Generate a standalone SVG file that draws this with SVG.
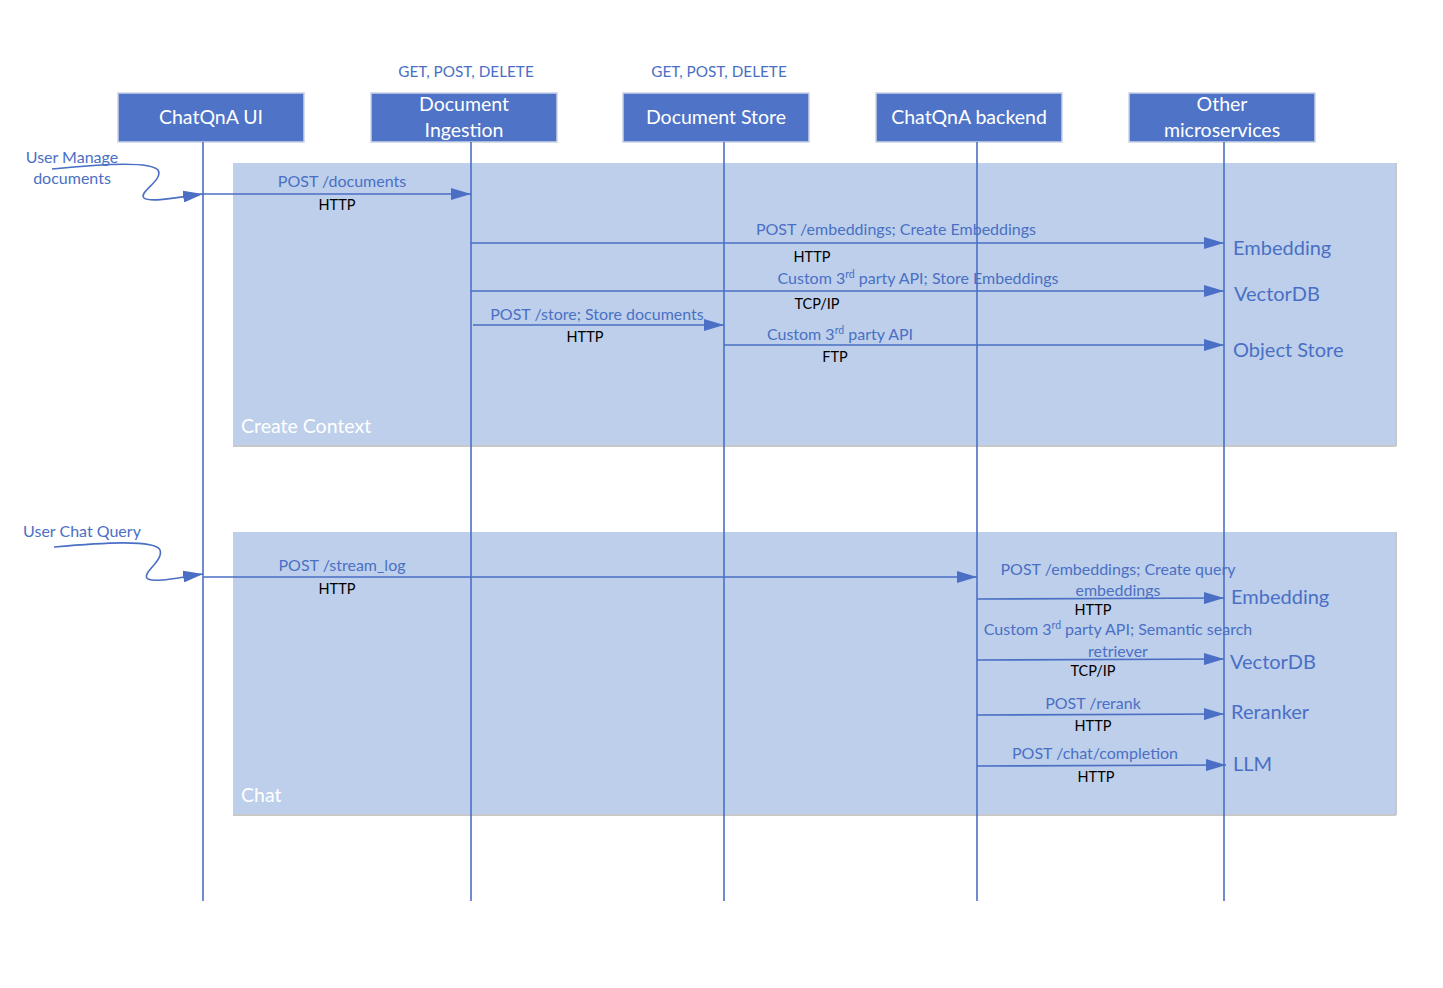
<svg xmlns="http://www.w3.org/2000/svg" width="1443" height="988" viewBox="0 0 1443 988">
<style>
  .box{fill:#4e73c7;stroke:#c9d3e6;stroke-width:1.5}
  .nt{font-family:Lato,"Noto Sans",sans-serif;font-size:19.5px;fill:#ffffff;text-anchor:middle}
  .panel{fill:#bdcfea}
  .pedge{stroke:#c8c8c8;stroke-width:2}
  .ptitle{font-family:Lato,"Noto Sans",sans-serif;font-size:19.5px;fill:#ffffff}
  .life{stroke:#4a6fc5;stroke-width:1.6;fill:none}
  .msg{stroke:#4a6fc5;stroke-width:1.6;fill:none;marker-end:url(#ah)}
  .lb{font-family:Lato,"Noto Sans",sans-serif;font-size:16px;fill:#4a6fc5;text-anchor:middle}
  .pr{font-family:Lato,"Noto Sans",sans-serif;font-size:14.5px;fill:#000000;text-anchor:middle}
  .tg{font-family:Lato,"Noto Sans",sans-serif;font-size:20px;fill:#4a6fc5}
  .meth{font-family:Lato,"Noto Sans",sans-serif;font-size:15.3px;fill:#4a6fc5;text-anchor:middle}
  .sup{font-size:10.5px}
</style>
<defs>
  <marker id="ah" markerWidth="20" markerHeight="12" refX="20" refY="6" orient="auto" markerUnits="userSpaceOnUse">
    <path d="M0,0 L20,6 L0,12 Z" fill="#4a6fc5"/>
  </marker>
</defs>
<rect width="1443" height="988" fill="#ffffff"/>

<g id="panel-create-context">
  <rect class="panel" x="233" y="163" width="1163" height="283"/>
  <line class="pedge" x1="233" y1="446" x2="1396" y2="446"/>
  <line class="pedge" x1="1396" y1="163" x2="1396" y2="446"/>
  <text class="ptitle" x="241" y="433">Create Context</text>
</g>
<g id="panel-chat">
  <rect class="panel" x="233" y="532" width="1163" height="283"/>
  <line class="pedge" x1="233" y1="815" x2="1396" y2="815"/>
  <line class="pedge" x1="1396" y1="532" x2="1396" y2="815"/>
  <text class="ptitle" x="241" y="802">Chat</text>
</g>

<g id="node-ui">
  <rect class="box" x="118" y="93" width="186" height="49"/>
  <text class="nt" x="211" y="124">ChatQnA UI</text>
</g>
<g id="node-ingestion">
  <text class="meth" x="466" y="77">GET, POST, DELETE</text>
  <rect class="box" x="371" y="93" width="186" height="49"/>
  <text class="nt" x="464" y="111">Document</text>
  <text class="nt" x="464" y="137">Ingestion</text>
</g>
<g id="node-store">
  <text class="meth" x="719" y="77">GET, POST, DELETE</text>
  <rect class="box" x="623" y="93" width="186" height="49"/>
  <text class="nt" x="716" y="124">Document Store</text>
</g>
<g id="node-backend">
  <rect class="box" x="876" y="93" width="186" height="49"/>
  <text class="nt" x="969" y="124">ChatQnA backend</text>
</g>
<g id="node-other">
  <rect class="box" x="1129" y="93" width="186" height="49"/>
  <text class="nt" x="1222" y="111">Other</text>
  <text class="nt" x="1222" y="137">microservices</text>
</g>

<g id="lifelines">
  <line class="life" x1="203" y1="142" x2="203" y2="901"/>
  <line class="life" x1="471" y1="142" x2="471" y2="901"/>
  <line class="life" x1="724" y1="142" x2="724" y2="901"/>
  <line class="life" x1="977" y1="142" x2="977" y2="901"/>
  <line class="life" x1="1224" y1="142" x2="1224" y2="901"/>
</g>

<g id="connectors">
  <!-- user manage documents -->
  <text class="lb" x="72" y="163">User Manage</text>
  <text class="lb" x="72" y="184">documents</text>
  <path class="msg" d="M52,169 C90,165 150,160 158,170 C164,180 138,192 144,198 C150,203 180,197 203,194"/>

  <path class="msg" d="M203,194 L471,194"/>
  <text class="lb" x="342" y="187">POST /documents</text>
  <text class="pr" x="337" y="210">HTTP</text>

  <path class="msg" d="M471,243 L1224,243"/>
  <text class="lb" x="896" y="235">POST /embeddings; Create Embeddings</text>
  <text class="pr" x="812" y="262">HTTP</text>
  <text class="tg" x="1233" y="255">Embedding</text>

  <path class="msg" d="M471,291 L1224,291"/>
  <text class="lb" x="918" y="284">Custom 3<tspan class="sup" dy="-6">rd</tspan><tspan dy="6"> party API; Store Embeddings</tspan></text>
  <text class="pr" x="817" y="309">TCP/IP</text>
  <text class="tg" x="1234" y="301">VectorDB</text>

  <path class="msg" d="M473,325 L724,325"/>
  <text class="lb" x="597" y="320">POST /store; Store documents</text>
  <text class="pr" x="585" y="342">HTTP</text>

  <path class="msg" d="M724,345 L1224,345"/>
  <text class="lb" x="840" y="340">Custom 3<tspan class="sup" dy="-6">rd</tspan><tspan dy="6"> party API</tspan></text>
  <text class="pr" x="835" y="362">FTP</text>
  <text class="tg" x="1233" y="357">Object Store</text>

  <!-- user chat query -->
  <text class="lb" x="82" y="537">User Chat Query</text>
  <path class="msg" d="M54,547 C100,543 155,539 160,550 C164,561 140,574 148,579 C156,583 180,577 203,574"/>

  <path class="msg" d="M203,577 L977,577"/>
  <text class="lb" x="342" y="571">POST /stream_log</text>
  <text class="pr" x="337" y="594">HTTP</text>

  <path class="msg" d="M977,599 L1224,598"/>
  <text class="lb" x="1118" y="575">POST /embeddings; Create query</text>
  <text class="lb" x="1118" y="596">embeddings</text>
  <text class="pr" x="1093" y="615">HTTP</text>
  <text class="tg" x="1231" y="604">Embedding</text>

  <path class="msg" d="M977,660 L1224,659"/>
  <text class="lb" x="1118" y="635">Custom 3<tspan class="sup" dy="-6">rd</tspan><tspan dy="6"> party API; Semantic search</tspan></text>
  <text class="lb" x="1118" y="657">retriever</text>
  <text class="pr" x="1093" y="676">TCP/IP</text>
  <text class="tg" x="1230" y="669">VectorDB</text>

  <path class="msg" d="M977,715 L1224,714"/>
  <text class="lb" x="1093" y="709">POST /rerank</text>
  <text class="pr" x="1093" y="731">HTTP</text>
  <text class="tg" x="1231" y="719">Reranker</text>

  <path class="msg" d="M977,766 L1226,765"/>
  <text class="lb" x="1095" y="759">POST /chat/completion</text>
  <text class="pr" x="1096" y="782">HTTP</text>
  <text class="tg" x="1233" y="771">LLM</text>
</g>
</svg>
